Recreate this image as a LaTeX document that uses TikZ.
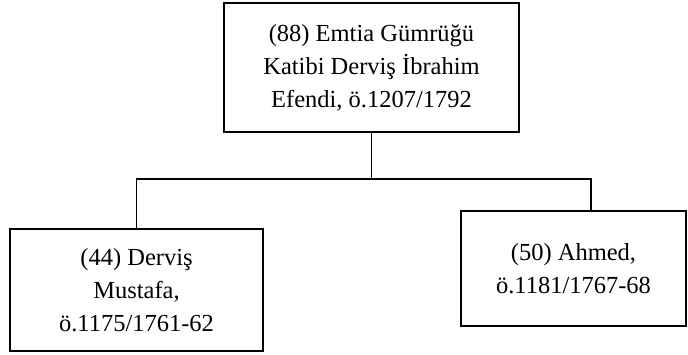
\documentclass[tikz,border=0pt]{standalone}
\usepackage{fontspec}
\setmainfont{Liberation Serif}
\begin{document}
\begin{tikzpicture}[x=1pt,y=-1pt,
  box/.style={draw=black,line width=1.9pt,rectangle,align=center,inner sep=0pt,
    font=\fontsize{24.5}{33}\selectfont},
  link/.style={draw=black,line width=1.8pt}]
\useasboundingbox (0,0) rectangle (688,354);
\node[box,minimum width=295pt,minimum height=129pt] (top) at (371.5,67.5)
  {(88) Emtia Gümrüğü\\Katibi Derviş İbrahim\\Efendi, ö.1207/1792};
\node[box,minimum width=253pt,minimum height=122pt] (left) at (136.5,290)
  {(44) Derviş\\Mustafa,\\ö.1175/1761-62};
\node[box,minimum width=225pt,minimum height=115pt] (right) at (573.5,268.5)
  {(50) Ahmed,\\ö.1181/1767-68};
\coordinate (j) at (371.5,179);
\coordinate (lj) at (136.5,179);
\coordinate (rj) at (591,179);
\draw[link] (top.south) -- (j);
\draw[link,line cap=rect] (lj) -- (rj);
\draw[link] (lj) -- (left.north);
\draw[link] (rj) -- (rj |- right.north);
\end{tikzpicture}
\end{document}
